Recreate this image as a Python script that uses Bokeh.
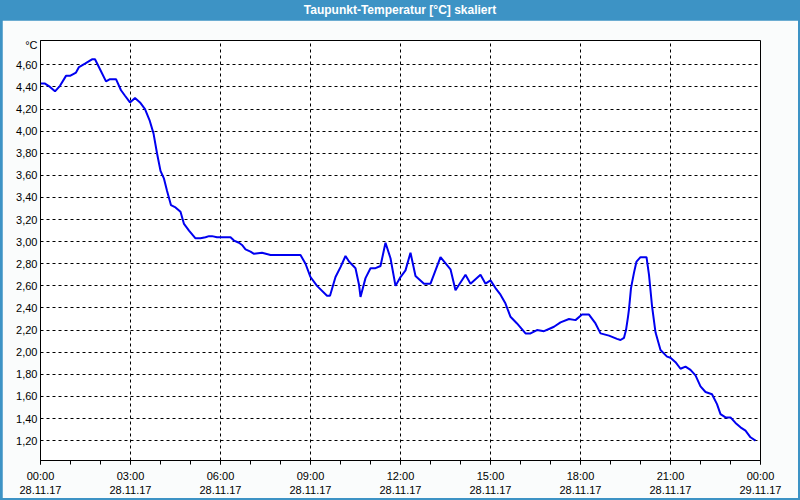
from bokeh.plotting import figure
from bokeh.models import FixedTicker, Div, Range1d
from bokeh.layouts import column
from bokeh.embed import file_html
from bokeh.resources import INLINE

# time in minutes after 28.11.17 00:00
minutes = [0, 9, 19, 29, 39, 51, 59, 71, 77, 89, 103, 109, 119, 131, 139, 151, 161, 169, 179, 189,
           199, 209, 218, 226, 233, 240, 247, 253, 261, 270, 280, 287, 297, 310, 320, 330, 337, 343, 353, 363,
           373, 380, 387, 397, 403, 410, 420, 427, 443, 460, 480, 493, 520, 530, 540, 553, 573, 579, 590, 600,
           610, 617, 630, 637, 640, 650, 660, 670, 680, 690, 700, 710, 720, 730, 740, 750, 767, 780, 800, 820,
           830, 840, 850, 860, 880, 890, 900, 910, 920, 930, 940, 953, 970, 980, 993, 1007, 1017, 1027, 1040, 1057,
           1070, 1083, 1097, 1110, 1120, 1137, 1153, 1160, 1167, 1171, 1175, 1177, 1181, 1187, 1192, 1200, 1212, 1217, 1223, 1230,
           1240, 1253, 1260, 1270, 1280, 1290, 1300, 1310, 1320, 1330, 1343, 1353, 1360, 1370, 1380, 1390, 1400, 1410, 1420, 1430]

dewpoint = [4.43, 4.43, 4.40, 4.36, 4.41, 4.50, 4.50, 4.53, 4.58, 4.61, 4.65, 4.65, 4.56, 4.45, 4.47, 4.47, 4.37, 4.32, 4.26, 4.30,
            4.26, 4.20, 4.10, 3.98, 3.80, 3.64, 3.57, 3.46, 3.33, 3.31, 3.27, 3.16, 3.10, 3.03, 3.03, 3.04, 3.05, 3.05, 3.04, 3.04,
            3.04, 3.04, 3.01, 2.99, 2.97, 2.93, 2.91, 2.89, 2.90, 2.88, 2.88, 2.88, 2.88, 2.80, 2.68, 2.60, 2.51, 2.51, 2.68, 2.77,
            2.87, 2.82, 2.76, 2.61, 2.50, 2.67, 2.76, 2.76, 2.78, 2.99, 2.85, 2.60, 2.68, 2.74, 2.90, 2.69, 2.62, 2.62, 2.86, 2.75,
            2.56, 2.63, 2.70, 2.62, 2.70, 2.62, 2.65, 2.58, 2.52, 2.44, 2.32, 2.26, 2.17, 2.17, 2.20, 2.19, 2.21, 2.23, 2.27, 2.30,
            2.29, 2.34, 2.34, 2.26, 2.17, 2.15, 2.12, 2.11, 2.13, 2.20, 2.32, 2.39, 2.58, 2.72, 2.82, 2.86, 2.86, 2.70, 2.42, 2.18,
            2.02, 1.96, 1.95, 1.91, 1.85, 1.87, 1.84, 1.79, 1.69, 1.64, 1.62, 1.53, 1.44, 1.41, 1.41, 1.36, 1.32, 1.29, 1.23, 1.20]

hours = [m / 60.0 for m in minutes]

x_ticks = [0, 3, 6, 9, 12, 15, 18, 21, 24]
x_tick_labels = ["00:00\n28.11.17", "03:00\n28.11.17", "06:00\n28.11.17", "09:00\n28.11.17",
                 "12:00\n28.11.17", "15:00\n28.11.17", "18:00\n28.11.17", "21:00\n28.11.17",
                 "00:00\n29.11.17"]
x_minor = list(range(0, 25))
y_ticks = [1.2, 1.4, 1.6, 1.8, 2.0, 2.2, 2.4, 2.6, 2.8, 3.0, 3.2, 3.4, 3.6, 3.8, 4.0, 4.2, 4.4, 4.6]
y_tick_labels = ["1,20", "1,40", "1,60", "1,80", "2,00", "2,20", "2,40", "2,60", "2,80", "3,00",
                 "3,20", "3,40", "3,60", "3,80", "4,00", "4,20", "4,40", "4,60"]
unit_label = "°C"
unit_pos = 4.775

TITLE = "Taupunkt-Temperatur [°C] skaliert"
BLUE = "#3D93C5"
FONT = "Liberation Sans"

p = figure(width=796, height=478, output_backend="svg", toolbar_location=None,
           x_range=Range1d(0, 24), y_range=Range1d(1.02, 4.82),
           min_border_left=38, min_border_right=38, min_border_top=20, min_border_bottom=38,
           background_fill_color="white", border_fill_color="#FAFCFC",
           outline_line_color="black", outline_line_width=1, margin=(0, 2, 2, 2))

p.line(hours, dewpoint, line_color="#0000F0", line_width=2)

xa = p.xaxis[0]
xa.ticker = FixedTicker(ticks=x_ticks, minor_ticks=x_minor)
xa.major_label_overrides = dict(zip(x_ticks, x_tick_labels))
xa.major_tick_out = 4
xa.major_tick_in = 0
xa.minor_tick_out = 4
xa.minor_tick_in = 0
xa.major_label_standoff = 5
xa.axis_line_color = "black"
xa.major_tick_line_color = "black"
xa.minor_tick_line_color = "black"
xa.major_label_text_font = FONT
xa.major_label_text_font_size = "11px"
xa.major_label_text_color = "black"

ya = p.yaxis[0]
ya.ticker = FixedTicker(ticks=y_ticks + [unit_pos])
overrides = dict(zip(y_ticks, y_tick_labels))
overrides[unit_pos] = unit_label
ya.major_label_overrides = overrides
ya.major_tick_out = 0
ya.major_tick_in = 0
ya.minor_tick_line_color = None
ya.major_label_standoff = 3
ya.axis_line_color = "black"
ya.major_label_text_font = FONT
ya.major_label_text_font_size = "11px"
ya.major_label_text_color = "black"

p.xgrid.ticker = FixedTicker(ticks=x_ticks)
p.ygrid.ticker = FixedTicker(ticks=y_ticks)
for g in (p.xgrid, p.ygrid):
    g.grid_line_color = "black"
    g.grid_line_dash = "3 3"
    g.grid_line_width = 1
    g.grid_line_alpha = 1.0

div = Div(text=TITLE, width=800, height=20, margin=0,
          styles={"background-color": BLUE, "color": "white", "font-weight": "bold",
                  "text-align": "center", "font-family": FONT, "font-size": "12px",
                  "line-height": "20px", "width": "800px"})

layout = column(div, p, spacing=0, styles={"background-color": BLUE}, width=800, height=500)

open("out.html", "w").write(file_html(layout, INLINE))
